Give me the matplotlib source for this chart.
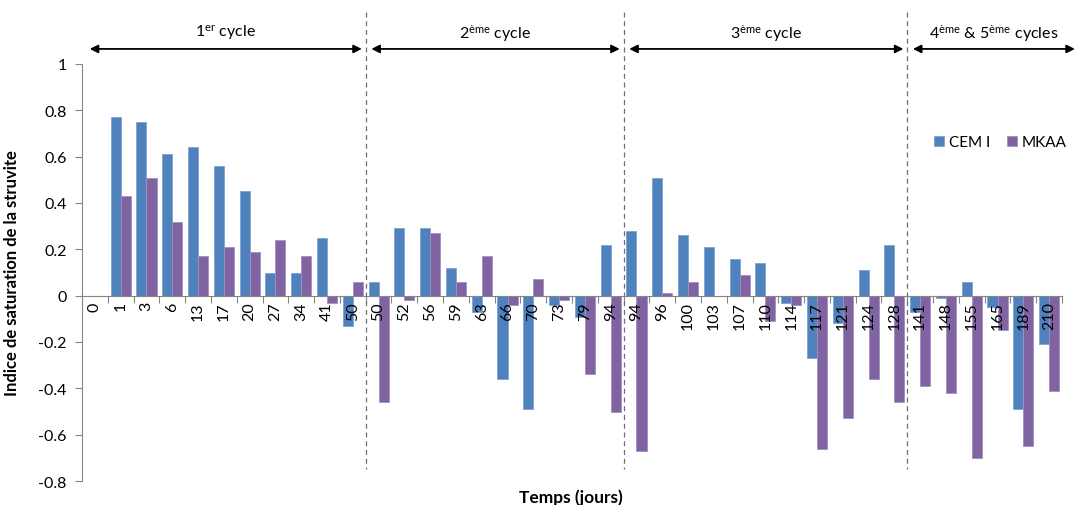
import numpy as np
import matplotlib
matplotlib.use("Agg")
import matplotlib.pyplot as plt

plt.rcParams['font.family'] = ['Lato', 'DejaVu Sans']
plt.rcParams['mathtext.default'] = 'regular'

days = ['0', '1', '3', '6', '13', '17', '20', '27', '34', '41', '50',
        '50', '52', '56', '59', '63', '66', '70', '73', '79', '94',
        '94', '96', '100', '103', '107', '110', '114', '117', '121', '124', '128',
        '141', '148', '155', '165', '189', '210']
cem = [0, 0.77, 0.75, 0.61, 0.64, 0.56, 0.45, 0.10, 0.10, 0.25, -0.13,
       0.06, 0.29, 0.29, 0.12, -0.07, -0.36, -0.49, -0.04, -0.09, 0.22,
       0.28, 0.51, 0.26, 0.21, 0.16, 0.14, -0.03, -0.27, -0.12, 0.11, 0.22,
       -0.07, -0.01, 0.06, -0.05, -0.49, -0.21]
mkaa = [0, 0.43, 0.51, 0.32, 0.17, 0.21, 0.19, 0.24, 0.17, -0.03, 0.06,
        -0.46, -0.02, 0.27, 0.06, 0.17, -0.04, 0.07, -0.02, -0.34, -0.50,
        -0.67, 0.01, 0.06, 0.0, 0.09, -0.11, -0.04, -0.66, -0.53, -0.36, -0.46,
        -0.39, -0.42, -0.70, -0.15, -0.65, -0.41]
cycle_labels = ['1$^{er}$ cycle', '2$^{ème}$ cycle', '3$^{ème}$ cycle',
                '4$^{ème}$ & 5$^{ème}$ cycles']
cycle_sizes = [11, 10, 11, 6]
yticks = [-0.8, -0.6, -0.4, -0.2, 0, 0.2, 0.4, 0.6, 0.8, 1]

blue = '#4F81BD'
purple = '#8064A2'
grey = '#868686'

fig = plt.figure(figsize=(10.8, 5.06), dpi=100)
ax = fig.add_axes([82/1080, 1-482/506, (1062-82)/1080, (482-65)/506])

x = np.arange(len(days))
w = 0.39
ax.bar(x - w/2, cem, w, color=blue, edgecolor='#7FA3D3', linewidth=0.6, label='CEM I')
ax.bar(x + w/2, mkaa, w, color=purple, edgecolor='#A48FC0', linewidth=0.6, label='MKAA')

ax.set_xlim(-0.5, len(days) - 0.5)
ax.set_ylim(-0.8, 1)
ax.set_yticks(yticks)
ax.set_yticklabels(['%g' % v for v in yticks])

for s in ['top', 'right']:
    ax.spines[s].set_visible(False)
ax.spines['bottom'].set_position(('data', 0))
ax.spines['bottom'].set_color(grey)
ax.spines['left'].set_color(grey)

ax.set_xticks(np.arange(0.5, len(days)), minor=False)
ax.set_xticklabels([])
ax.set_xticks(x, minor=True)
ax.set_xticklabels(days, minor=True, rotation=90, fontsize=11.5)
ax.tick_params(axis='x', which='major', length=5, direction='out', color=grey)
ax.tick_params(axis='x', which='minor', length=0, pad=4)
ax.tick_params(axis='y', length=5, direction='out', color=grey, labelsize=11.5, pad=6)

ax.set_ylabel('Indice de saturation de la struvite', fontweight='bold', fontsize=12)
ax.yaxis.set_label_coords(-0.063, 0.5)
fig.text(571/1080, 1-498/506, 'Temps (jours)', fontweight='bold', fontsize=12.5,
         ha='center', va='center')

# cycle separators, arrows and labels
bounds = np.cumsum([0] + cycle_sizes) - 0.5
for b in bounds[1:-1]:
    ax.plot([b, b], [1.224, -0.75], ls=(0, (4, 3)), color='#6f6f6f', lw=0.9,
            clip_on=False)
for i, lab in enumerate(cycle_labels):
    start = bounds[i] + (0.3 if i == 0 else 0.22)
    end = bounds[i + 1] - 0.15 if i < len(cycle_labels) - 1 else bounds[i + 1] + 0.5
    ax.annotate('', xy=(end, 1.065), xytext=(start, 1.065),
                arrowprops=dict(arrowstyle='<|-|>', color='black', lw=1.3,
                                mutation_scale=12, shrinkA=0, shrinkB=0),
                annotation_clip=False)
    ax.text((start + end) / 2, 1.134, lab, ha='center', va='center',
            fontsize=11.5, clip_on=False)

ax.legend(loc='center left', bbox_to_anchor=(931/1080, 1-143/506),
          bbox_transform=fig.transFigure, ncol=2, frameon=False, fontsize=11,
          handlelength=0.65, handleheight=0.65, handletextpad=0.3,
          columnspacing=1.1, borderpad=0.2, borderaxespad=0)

fig.savefig('out.png', dpi=100)
